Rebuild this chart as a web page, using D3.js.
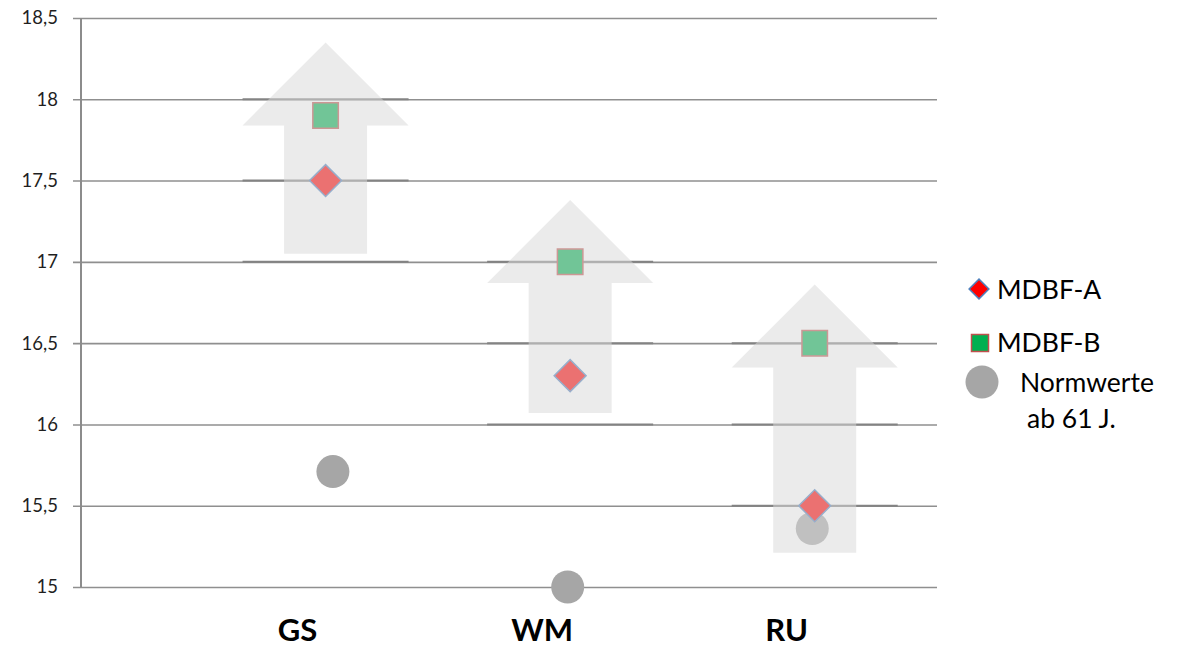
<!DOCTYPE html>
<html>
<head>
<meta charset="utf-8">
<script src="https://cdn.jsdelivr.net/npm/d3@7/dist/d3.min.js"></script>
<style>
  html, body { margin: 0; padding: 0; background: #ffffff; }
  svg { display: block; }
  text { font-family: Lato, "Open Sans", sans-serif; }
</style>
</head>
<body>
<svg id="chart" width="1194" height="648"></svg>
<script>
// Categories and their positions on the horizontal value axis
const categories = ["GS", "WM", "RU"];
const catX = [1, 2, 3];

// Series values
const mdbfA = [17.5, 16.3, 15.5];
const mdbfB = [17.9, 17.0, 16.5];
const normX = [1.03, 1.99, 2.99];
const normValues = [15.71, 15.0, 15.36];

// Upward arrows behind each category (value range covered)
const arrowFrom = [17.05, 16.07, 15.21];
const arrowTo = [18.35, 17.38, 16.86];

// Axis ticks
const yTicks = [15, 15.5, 16, 16.5, 17, 17.5, 18, 18.5];

const svg = d3.select("#chart");

const x = d3.scaleLinear().domain([0, 3.5]).range([81, 937]);
const y = d3.scaleLinear().domain([15, 18.5]).range([587, 18]);

// Gridlines with labels (decimal comma)
const axisG = svg.append("g")
  .attr("transform", "translate(73,0)")
  .call(d3.axisLeft(y)
    .tickValues(yTicks)
    .tickSizeInner(-(x.range()[1] - 73))
    .tickSizeOuter(0)
    .tickPadding(15)
    .tickFormat(d => String(d).replace(".", ",")));
axisG.select(".domain").remove();
axisG.selectAll(".tick line")
  .attr("stroke", "#8f8f8f")
  .attr("stroke-width", 1.6);
axisG.selectAll(".tick text")
  .attr("fill", "#1f1f1f")
  .attr("font-size", 18.5)
  .style("font-size", "18.5px")
  .style("font-family", "Lato, sans-serif");

// Vertical axis line
svg.append("line")
  .attr("x1", x(0)).attr("x2", x(0))
  .attr("y1", y(15)).attr("y2", y(18.5))
  .attr("stroke", "#8c8c8c")
  .attr("stroke-width", 2);

// Arrow geometry (pixels)
const headW = 166, headH = 83, shaftW = 83;

// Slightly darker gridline segments across each arrow's width
const segs = [];
catX.forEach((cx, i) => {
  yTicks.forEach(v => {
    if (v >= arrowFrom[i] - 0.1 && v <= arrowTo[i]) segs.push({ cx, v });
  });
});
svg.append("g").selectAll("line").data(segs).join("line")
  .attr("x1", d => x(d.cx) - headW / 2)
  .attr("x2", d => x(d.cx) + headW / 2)
  .attr("y1", d => y(d.v)).attr("y2", d => y(d.v))
  .attr("stroke", "#838383")
  .attr("stroke-width", 2);

// Normwerte circles
svg.append("g").selectAll("circle").data(normValues).join("circle")
  .attr("cx", (d, i) => x(normX[i]))
  .attr("cy", d => y(d))
  .attr("r", 16.5)
  .attr("fill", "#a6a6a6");

// MDBF-A diamonds
const diamond = d3.symbol().type(d3.symbolSquare).size(22.6 * 22.6);
svg.append("g").selectAll("path").data(mdbfA).join("path")
  .attr("d", diamond)
  .attr("transform", (d, i) => `translate(${x(catX[i])},${y(d)}) rotate(45)`)
  .attr("fill", "#ff0000")
  .attr("stroke", "#4f81bd")
  .attr("stroke-width", 1.5);

// MDBF-B squares
const square = d3.symbol().type(d3.symbolSquare).size(25.5 * 25.5);
svg.append("g").selectAll("path").data(mdbfB).join("path")
  .attr("d", square)
  .attr("transform", (d, i) => `translate(${x(catX[i])},${y(d)})`)
  .attr("fill", "#00b050")
  .attr("stroke", "#c0504d")
  .attr("stroke-width", 1.5);

// Translucent arrows laid over the markers
function arrowPath(cx, top, bottom) {
  const p = d3.path();
  p.moveTo(cx, top);
  p.lineTo(cx + headW / 2, top + headH);
  p.lineTo(cx + shaftW / 2, top + headH);
  p.lineTo(cx + shaftW / 2, bottom);
  p.lineTo(cx - shaftW / 2, bottom);
  p.lineTo(cx - shaftW / 2, top + headH);
  p.lineTo(cx - headW / 2, top + headH);
  p.closePath();
  return p.toString();
}
svg.append("g").selectAll("path").data(catX).join("path")
  .attr("d", (d, i) => arrowPath(x(d), y(arrowTo[i]), y(arrowFrom[i])))
  .attr("fill", "#d9d9d9")
  .attr("fill-opacity", 0.52);

// Category labels
svg.append("g").selectAll("text").data(categories).join("text")
  .attr("x", (d, i) => x(catX[i]) - 28)
  .attr("y", 641)
  .attr("text-anchor", "middle")
  .style("font-size", "31px")
  .style("font-weight", "bold")
  .attr("fill", "#000")
  .text(d => d);

// Legend
const legend = svg.append("g");
legend.append("path")
  .attr("d", d3.symbol().type(d3.symbolSquare).size(14 * 14))
  .attr("transform", "translate(979,289) rotate(45)")
  .attr("fill", "#ff0000")
  .attr("stroke", "#4f81bd")
  .attr("stroke-width", 1.5);
legend.append("path")
  .attr("d", d3.symbol().type(d3.symbolSquare).size(17 * 17))
  .attr("transform", "translate(980,343)")
  .attr("fill", "#00b050")
  .attr("stroke", "#c0504d")
  .attr("stroke-width", 1.5);
legend.append("circle")
  .attr("cx", 982).attr("cy", 382).attr("r", 16.5)
  .attr("fill", "#a6a6a6");

const legendText = [
  { t: "MDBF-A", x: 997, y: 299 },
  { t: "MDBF-B", x: 997, y: 352 },
  { t: "Normwerte", x: 1020, y: 392 },
  { t: "ab 61 J.", x: 1027, y: 428 }
];
legend.selectAll("text").data(legendText).join("text")
  .attr("x", d => d.x).attr("y", d => d.y)
  .style("font-size", "26.5px")
  .attr("fill", "#000")
  .text(d => d.t);
</script>
</body>
</html>
